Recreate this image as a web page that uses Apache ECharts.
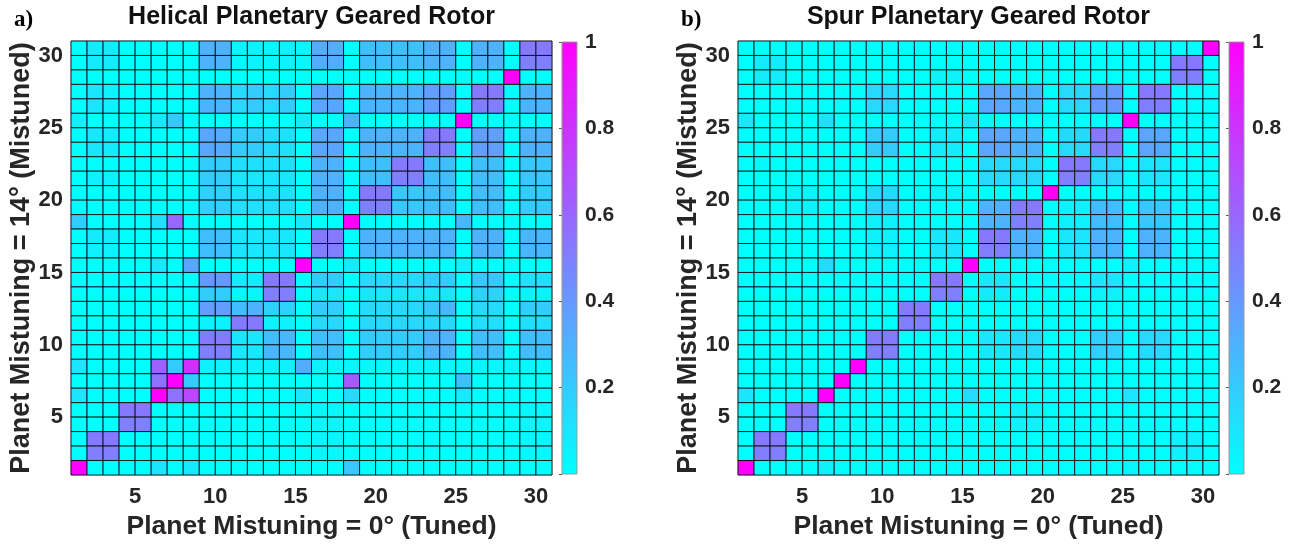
<!DOCTYPE html>
<html>
<head>
<meta charset="utf-8">
<script src="https://cdn.jsdelivr.net/npm/echarts@6/dist/echarts.min.js"></script>
<style>
html,body{margin:0;padding:0;background:#fff;}
#chart{width:1294px;height:551px;}
</style>
</head>
<body>
<div id="chart"></div>
<script>
// Mode numbers along each axis and the labelled ticks
const modes = Array.from({length: 30}, (_, i) => i + 1);
const axisTickValues = [5, 10, 15, 20, 25, 30];
const colorbarTickValues = [0.2, 0.4, 0.6, 0.8, 1];
const panelTitles = ['Helical Planetary Geared Rotor', 'Spur Planetary Geared Rotor'];
const panelTags = ['a)', 'b)'];
const xAxisTitle = 'Planet Mistuning = 0° (Tuned)';
const yAxisTitle = 'Planet Mistuning = 14° (Mistuned)';

// Helical matrix: rows listed from mode 30 (top) down to mode 1 (bottom), columns 1..30
const helicalRows = [
[0,.08,.08,0,0,0,0,0,.3,.3,.03,.05,.03,.05,.03,.32,.32,0,.25,.25,.25,.25,.3,.3,0,.3,.3,0,.52,.52],
[0,.08,.08,0,0,0,0,0,.3,.3,.03,.05,.03,.05,.03,.32,.32,0,.25,.25,.25,.25,.3,.3,0,.3,.3,0,.5,.5],
[0,0,0,0,0,0,0,0,0,0,0,0,0,0,0,0,0,0,0,0,0,0,0,0,0,0,0,1,0,0],
[0,.1,.05,0,0,0,0,0,.3,.3,.15,.2,.15,.2,0,.35,.35,0,.3,.3,.3,.3,.38,.38,0,.52,.52,0,.3,.3],
[0,.1,.05,0,0,0,0,0,.3,.3,.15,.2,.15,.2,0,.35,.35,0,.3,.3,.3,.3,.38,.38,0,.5,.5,0,.3,.3],
[.05,0,0,0,0,.1,.22,0,0,0,0,0,0,0,.08,0,0,.3,0,0,0,0,0,0,1,0,0,0,0,0],
[0,.1,.08,0,0,0,0,0,.35,.33,.2,.2,.15,.12,0,.35,.35,0,.3,.3,.3,.3,.52,.52,0,.38,.38,0,.3,.3],
[0,.1,.08,0,0,0,0,0,.35,.33,.2,.2,.15,.12,0,.35,.35,0,.3,.3,.3,.3,.5,.5,0,.38,.38,0,.3,.3],
[0,0,0,0,0,0,0,0,.2,.2,.12,.12,.12,.12,0,.3,.3,0,.25,.25,.52,.52,.25,.25,0,.25,.25,0,.22,.22],
[0,.05,.05,0,0,0,0,0,.2,.2,.1,.1,.1,.1,0,.3,.3,0,.25,.25,.5,.5,.25,.25,0,.25,.25,0,.22,.22],
[0,0,0,0,0,0,0,0,.18,.18,.12,.12,.12,.12,0,.3,.3,0,.52,.52,.22,.22,.25,.25,0,.25,.25,0,.2,.2],
[0,0,0,0,0,0,0,0,.18,.18,.12,.12,.12,.12,0,.3,.3,0,.5,.5,.22,.22,.25,.25,0,.25,.25,0,.2,.2],
[.2,0,0,0,0,.12,.6,0,0,0,0,0,0,0,.1,0,0,1,0,0,0,0,0,0,.28,0,0,0,0,0],
[0,.08,.08,0,0,0,0,0,.25,.25,.1,.1,.1,.1,0,.52,.52,0,.3,.3,.3,.3,.3,.3,0,.3,.3,0,.28,.28],
[0,.05,.05,0,0,0,0,0,.25,.25,.1,.1,.1,.1,0,.5,.5,0,.3,.3,.3,.3,.3,.3,0,.3,.3,0,.28,.28],
[0,0,0,0,0,.1,0,.35,0,0,0,0,0,0,1,0,0,.08,0,0,0,0,0,0,.05,0,0,0,0,0],
[0,0,0,0,0,0,0,0,.4,.4,.08,.08,.52,.52,0,.2,.2,0,.15,.15,.15,.15,.2,.2,0,.22,.22,0,.12,.12],
[0,0,0,0,0,0,0,0,.2,.2,.03,.03,.5,.5,0,.1,.1,0,.1,.1,.1,.1,.1,.1,0,.18,.18,0,.05,.05],
[0,0,0,0,0,0,0,0,.38,.38,.25,.3,.18,.18,0,.2,.2,0,.15,.15,.15,.15,.22,.28,0,.15,.15,0,.2,.2],
[0,0,0,0,0,0,0,0,.05,.05,.52,.52,.05,.05,0,.15,.15,0,.15,.15,.15,.15,.15,.15,0,.12,.12,0,.12,.12],
[0,0,0,0,0,0,0,0,.52,.52,.1,.1,.25,.28,0,.25,.25,0,.2,.2,.2,.2,.3,.3,0,.25,.25,0,.25,.25],
[0,0,0,0,0,0,0,0,.5,.5,.1,.1,.28,.28,0,.25,.25,0,.2,.2,.2,.2,.3,.3,0,.25,.25,0,.25,.25],
[.1,0,0,0,0,.62,.2,.82,.05,.05,.05,.05,.05,.05,.32,.05,.03,.03,.03,.03,.03,.03,.03,.03,.03,.03,.03,.03,.03,.03],
[0,0,0,0,0,.55,1,.2,0,0,0,0,0,0,0,0,0,.65,0,0,0,0,0,0,.25,0,0,0,0,0],
[.1,0,0,0,0,1,.55,.72,0,0,0,0,0,0,.1,0,0,.15,0,0,0,0,0,0,.08,0,0,0,0,0],
[0,0,0,.52,.52,0,0,0,0,0,0,0,0,0,0,.03,.03,0,0,0,0,0,0,0,0,0,0,0,.03,.03],
[0,0,0,.5,.5,0,0,0,0,0,0,0,0,0,0,.03,.03,0,0,0,0,0,0,0,0,0,0,0,.03,.03],
[0,.52,.52,0,0,0,0,0,0,0,0,0,0,0,0,.03,.03,0,0,0,0,0,0,0,0,0,0,0,.03,.03],
[0,.5,.5,0,0,0,0,0,0,0,0,0,0,0,0,.03,.03,0,0,0,0,0,0,0,0,0,0,0,.03,.03],
[1,0,0,0,0,.1,0,.08,0,0,0,0,0,0,0,0,0,.22,0,0,0,0,0,0,0,0,0,0,0,0]
];

// Spur matrix: rows listed from mode 30 (top) down to mode 1 (bottom), columns 1..30
const spurRows = [
[0,0,0,0,0,0,0,0,0,0,0,0,0,0,0,0,0,0,0,0,0,0,0,0,0,0,0,0,0,1],
[0,.08,.08,0,0,0,0,0,0,0,0,0,0,0,0,0,0,0,0,0,0,0,0,0,0,0,0,.52,.52,0],
[0,.08,.08,0,0,0,0,0,0,0,0,0,.05,.05,0,0,0,0,0,0,0,0,0,0,0,0,0,.5,.5,0],
[0,0,0,0,0,0,0,0,.15,.15,0,0,0,0,0,.35,.35,.3,.3,0,.15,.15,.4,.4,0,.52,.52,0,0,0],
[0,0,0,0,0,0,0,0,.15,.15,0,0,0,0,0,.35,.35,.3,.3,0,.15,.15,.4,.4,0,.5,.5,0,0,0],
[.1,0,0,0,0,.12,0,0,0,0,0,0,0,0,.1,.03,0,0,0,0,0,0,0,0,1,0,0,0,0,0],
[0,0,0,0,0,0,0,0,.2,.2,0,0,.08,.08,0,.35,.35,.3,.3,0,.15,.15,.52,.52,0,.35,.35,0,0,0],
[0,0,0,0,0,0,0,0,.2,.2,0,0,.08,.08,0,.35,.35,.3,.3,0,.15,.15,.5,.5,0,.35,.35,0,0,0],
[0,.03,0,0,0,0,0,0,0,0,0,0,0,0,0,.15,.15,.15,.15,0,.52,.52,.15,.15,0,.1,.1,0,0,0],
[0,0,0,0,0,0,0,0,0,0,0,0,0,0,0,.15,.15,.15,.15,0,.5,.5,.15,.15,0,.1,.1,0,0,0],
[0,0,0,.05,.05,0,0,0,.15,.15,0,0,.05,.05,0,0,0,0,0,1,0,0,0,0,0,0,0,0,0,0],
[0,0,0,.05,.05,0,0,0,.15,.15,0,0,0,0,0,.3,.3,.52,.52,0,.05,.05,.25,.25,0,.22,.22,0,0,0],
[0,0,0,0,0,0,0,0,.05,.05,0,0,0,0,0,.3,.3,.5,.5,0,.05,.05,.25,.25,0,.22,.22,0,0,0],
[0,0,0,0,0,0,0,0,.05,.05,0,0,.1,.1,0,.52,.52,.3,.3,0,.1,.1,.3,.3,0,.3,.3,0,0,0],
[0,0,0,0,0,0,0,0,.05,.05,0,0,.1,.1,0,.5,.5,.3,.3,0,.1,.1,.3,.3,0,.3,.3,0,0,0],
[0,0,0,0,0,.15,0,0,0,0,0,0,0,0,1,0,0,0,0,0,0,0,0,0,.05,0,0,0,0,0],
[0,0,0,0,0,0,0,0,0,0,0,0,.52,.52,0,.1,.1,0,0,0,0,0,.1,.1,0,0,0,0,0,0],
[0,0,0,0,0,0,0,0,0,0,0,0,.5,.5,0,.08,.08,0,0,0,0,0,.05,.05,0,0,0,0,0,0],
[0,0,0,0,0,0,0,0,0,0,.52,.52,0,0,0,0,0,0,0,0,0,0,0,0,0,0,0,0,0,0],
[0,0,0,0,0,0,0,0,0,0,.5,.5,0,0,0,0,0,0,0,0,0,0,0,0,0,0,0,0,0,0],
[0,0,0,0,0,0,0,0,.52,.52,0,0,0,0,0,.1,.1,.15,.15,0,0,0,.18,.18,0,.15,.15,0,0,0],
[0,0,0,0,0,0,0,0,.5,.5,0,0,0,0,0,.1,.1,.15,.15,0,0,0,.18,.18,0,.15,.15,0,0,0],
[0,0,0,0,0,0,0,1,0,0,0,0,0,0,0,0,0,0,0,0,0,0,0,0,0,0,0,0,0,0],
[0,0,0,0,0,0,1,0,0,0,0,0,0,0,0,0,0,0,0,0,0,0,0,0,0,0,0,0,0,0],
[.1,0,0,0,0,1,0,0,0,0,0,0,0,0,.15,0,0,0,0,0,0,0,0,0,.1,0,0,0,0,0],
[0,0,0,.52,.52,0,0,0,0,0,0,0,0,0,0,0,0,.05,.05,0,0,0,0,0,0,0,0,0,0,0],
[0,0,0,.5,.5,0,0,0,0,0,0,0,0,0,0,0,0,.05,.05,0,0,0,0,0,0,0,0,0,0,0],
[0,.52,.52,0,0,0,0,0,0,0,0,0,0,0,0,0,0,0,0,0,0,0,0,0,0,0,0,.05,.05,0],
[0,.5,.5,0,0,0,0,0,0,0,0,0,0,0,0,0,0,0,0,0,0,0,0,0,0,0,0,.05,.05,0],
[1,0,0,0,0,.05,0,0,0,0,0,0,0,0,0,0,0,0,0,0,0,0,0,0,.03,0,0,0,0,0]
];

function toCells(rows) {
  const out = [];
  rows.forEach((r, i) => r.forEach((v, j) => out.push([modes[j], modes[29 - i], v])));
  return out;
}

const FONT = "'Liberation Sans', Arial, sans-serif";
const LABEL = '#262626';

const chart = echarts.init(document.getElementById('chart'), null, {renderer: 'canvas'});

const panelLeft = [71, 738];
const cbarLeft = [562, 1229];
const gridTop = 41, gridW = 481, gridH = 434;

function cellItem(params, api) {
  const x = api.value(0), y = api.value(1);
  const p0 = api.coord([x, y + 1]);
  const p1 = api.coord([x + 1, y]);
  return {
    type: 'rect',
    shape: {x: p0[0], y: p0[1], width: p1[0] - p0[0], height: p1[1] - p0[1]},
    style: {fill: api.visual('color'), stroke: 'rgba(0,0,0,0.8)', lineWidth: 1}
  };
}
function cbarItem(params, api) {
  const p0 = api.coord([0, 1]);
  const p1 = api.coord([1, 0]);
  return {
    type: 'rect',
    shape: {x: p0[0], y: p0[1], width: p1[0] - p0[0], height: p1[1] - p0[1]},
    style: {
      fill: new echarts.graphic.LinearGradient(0, 0, 0, 1, [
        {offset: 0, color: '#ff00ff'}, {offset: 1, color: '#00ffff'}
      ]),
      stroke: '#9a9a9a', lineWidth: 1
    }
  };
}

const grids = [], xAxes = [], yAxes = [], series = [], titles = [];
[0, 1].forEach(p => {
  grids.push({left: panelLeft[p], top: gridTop, width: gridW, height: gridH, show: true, borderColor: '#a0a0a0', borderWidth: 1, backgroundColor: 'transparent'});
});
[0, 1].forEach(p => {
  grids.push({left: cbarLeft[p], top: 42, width: 15, height: 432});
});
const tickFmt = v => (axisTickValues.indexOf(v) >= 0 ? String(v) : '');
[0, 1].forEach(p => {
  xAxes.push({
    gridIndex: p, type: 'value', min: 1, max: 31, interval: 1,
    axisLine: {show: false}, axisTick: {show: false}, splitLine: {show: false},
    axisLabel: {formatter: tickFmt, margin: 11, fontSize: 22, fontWeight: 'bold', color: LABEL, fontFamily: FONT},
    name: xAxisTitle, nameLocation: 'middle', nameGap: 33,
    nameTextStyle: {fontSize: 26.5, fontWeight: 'bold', color: LABEL, fontFamily: FONT}
  });
  yAxes.push({
    gridIndex: p, type: 'value', min: 1, max: 31, interval: 1,
    axisLine: {show: false}, axisTick: {show: false}, splitLine: {show: false},
    axisLabel: {formatter: tickFmt, margin: 8, fontSize: 22, fontWeight: 'bold', color: LABEL, fontFamily: FONT},
    name: yAxisTitle, nameLocation: 'middle', nameGap: 36, nameRotate: 90,
    nameTextStyle: {fontSize: 27, fontWeight: 'bold', color: LABEL, fontFamily: FONT}
  });
});
[0, 1].forEach(p => {
  xAxes.push({gridIndex: 2 + p, type: 'value', min: 0, max: 1, show: false});
  yAxes.push({
    gridIndex: 2 + p, type: 'value', min: 0, max: 1, interval: 0.2, position: 'right',
    axisLine: {show: false}, splitLine: {show: false},
    axisTick: {show: true, inside: true, length: 3, lineStyle: {color: '#555'}},
    axisLabel: {formatter: v => (colorbarTickValues.some(t => Math.abs(t - v) < 1e-6) ? String(+v.toFixed(1)) : ''),
      margin: 8, fontSize: 21, fontWeight: 'bold', color: LABEL, fontFamily: FONT}
  });
});
[helicalRows, spurRows].forEach((rows, p) => {
  series.push({type: 'custom', xAxisIndex: p, yAxisIndex: p, renderItem: cellItem, data: toCells(rows),
    encode: {x: 0, y: 1}, silent: true});
});
[0, 1].forEach(p => {
  series.push({type: 'custom', xAxisIndex: 2 + p, yAxisIndex: 2 + p, renderItem: cbarItem, data: [[0, 0]], silent: true});
});
[0, 1].forEach(p => {
  titles.push({text: panelTitles[p], left: panelLeft[p] + gridW / 2, top: 5, textAlign: 'center', padding: 0,
    textStyle: {fontSize: 25, fontWeight: 'bold', color: '#111', fontFamily: FONT}});
  titles.push({text: panelTags[p], left: panelLeft[p] - 57, top: 9, padding: 0,
    textStyle: {fontSize: 23, fontWeight: 'bold', color: '#000', fontFamily: "'Liberation Serif', 'Times New Roman', serif"}});
});

chart.setOption({
  animation: false,
  backgroundColor: '#ffffff',
  title: titles,
  grid: grids,
  xAxis: xAxes,
  yAxis: yAxes,
  visualMap: [{type: 'continuous', show: false, min: 0, max: 1, dimension: 2, seriesIndex: [0, 1],
    inRange: {color: ['#00ffff', '#ff00ff']}}],
  series: series
});
</script>
</body>
</html>
